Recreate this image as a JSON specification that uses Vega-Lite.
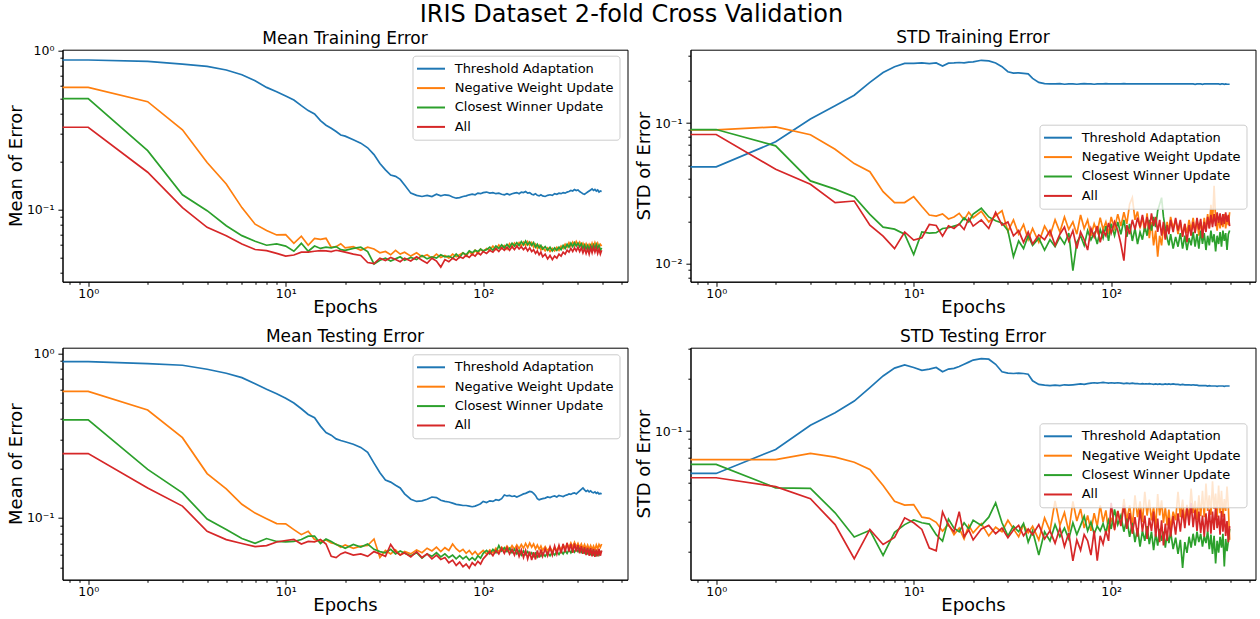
{
  "$schema": "https://vega.github.io/schema/vega-lite/v6.json",
  "background": "white",
  "padding": {"left": 6.5, "top": 2.7, "right": 4, "bottom": 4},
  "title": {"text": "IRIS Dataset 2-fold Cross Validation", "fontSize": 24, "anchor": "middle", "frame": "bounds", "baseline": "alphabetic", "offset": -16.8},
  "columns": 2,
  "spacing": {"row": 66, "column": 63},
  "bounds": "flush",
  "resolve": {"scale": {"color": "independent"}, "legend": {"color": "independent"}},
  "datasets": {
    "mtr": [
      {"e":0.5,"a":0.874,"b":0.588,"c":0.499,"d":0.33},
      {"e":1,"a":0.874,"b":0.588,"c":0.499,"d":0.33},
      {"e":2,"a":0.857,"b":0.478,"c":0.235,"d":0.172},
      {"e":3,"a":0.824,"b":0.318,"c":0.124,"d":0.103},
      {"e":4,"a":0.797,"b":0.198,"c":0.0985,"d":0.0774},
      {"e":5,"a":0.756,"b":0.145,"c":0.0792,"d":0.0686},
      {"e":6,"a":0.706,"b":0.103,"c":0.0686,"d":0.0608},
      {"e":7,"a":0.648,"b":0.081,"c":0.0632,"d":0.0561},
      {"e":8,"a":0.588,"b":0.0738,"c":0.0597,"d":0.0552},
      {"e":9,"a":0.552,"b":0.0693,"c":0.0608,"d":0.0531},
      {"e":10,"a":0.519,"b":0.0696,"c":0.059,"d":0.051},
      {"e":11,"a":0.49,"b":0.0614,"c":0.0547,"d":0.0518},
      {"e":12,"a":0.451,"b":0.068,"c":0.0614,"d":0.054},
      {"e":13,"a":0.42,"b":0.0597,"c":0.0547,"d":0.054},
      {"e":14,"a":0.4,"b":0.066,"c":0.059,"d":0.0547},
      {"e":15,"a":0.363,"b":0.065,"c":0.057,"d":0.0552},
      {"e":16,"a":0.34,"b":0.066,"c":0.058,"d":0.055},
      {"e":17,"a":0.325,"b":0.058,"c":0.0575,"d":0.0545},
      {"e":18,"a":0.31,"b":0.0585,"c":0.0585,"d":0.0555},
      {"e":19,"a":0.295,"b":0.061,"c":0.056,"d":0.0548},
      {"e":20,"a":0.29,"b":0.0575,"c":0.0555,"d":0.054},
      {"e":22,"a":0.275,"b":0.0585,"c":0.057,"d":0.0525},
      {"e":24,"a":0.262,"b":0.0555,"c":0.058,"d":0.0515},
      {"e":26,"a":0.245,"b":0.058,"c":0.0545,"d":0.0465},
      {"e":28,"a":0.222,"b":0.0565,"c":0.0455,"d":0.0458},
      {"e":30,"a":0.195,"b":0.0535,"c":0.048,"d":0.0495},
      {"e":32,"a":0.178,"b":0.0545,"c":0.0495,"d":0.0478},
      {"e":34,"a":0.165,"b":0.052,"c":0.0475,"d":0.05},
      {"e":36,"a":0.162,"b":0.0555,"c":0.049,"d":0.0485},
      {"e":38,"a":0.155,"b":0.0525,"c":0.0505,"d":0.047},
      {"e":40,"a":0.143,"b":0.054,"c":0.048,"d":0.0495},
      {"e":43,"a":0.127,"b":0.051,"c":0.05,"d":0.0475},
      {"e":46,"a":0.123,"b":0.0535,"c":0.0485,"d":0.0505},
      {"e":49,"a":0.121,"b":0.0505,"c":0.0515,"d":0.048},
      {"e":52,"a":0.123,"b":0.052,"c":0.049,"d":0.046},
      {"e":55,"a":0.121,"b":0.0495,"c":0.0505,"d":0.0495},
      {"e":58,"a":0.125,"b":0.0525,"c":0.0495,"d":0.0475},
      {"e":61,"a":0.122,"b":0.05,"c":0.052,"d":0.0435},
      {"e":64,"a":0.124,"b":0.0515,"c":0.0505,"d":0.0485},
      {"e":67,"a":0.123,"b":0.0495,"c":0.051,"d":0.047},
      {"e":70,"a":0.12,"b":0.0525,"c":0.0495,"d":0.0495},
      {"e":73,"a":0.118,"b":0.0505,"c":0.0525,"d":0.048},
      {"e":76,"a":0.119,"b":0.052,"c":0.05,"d":0.0505},
      {"e":79,"a":0.121,"b":0.0535,"c":0.0535,"d":0.0495},
      {"e":82,"a":0.122,"b":0.051,"c":0.052,"d":0.0515},
      {"e":85,"a":0.124,"b":0.0545,"c":0.055,"d":0.05},
      {"e":88,"a":0.125,"b":0.052,"c":0.0535,"d":0.0525},
      {"e":91,"a":0.124,"b":0.0555,"c":0.0555,"d":0.051},
      {"e":94,"a":0.127,"b":0.053,"c":0.0545,"d":0.0535},
      {"e":97,"a":0.126,"b":0.0565,"c":0.0565,"d":0.052},
      {"e":100,"a":0.128,"b":0.0545,"c":0.055,"d":0.0545},
      {"e":104,"a":0.129,"b":0.057,"c":0.056,"d":0.053},
      {"e":108,"a":0.127,"b":0.0555,"c":0.058,"d":0.0555},
      {"e":112,"a":0.128,"b":0.059,"c":0.0555,"d":0.054},
      {"e":116,"a":0.126,"b":0.056,"c":0.059,"d":0.057},
      {"e":120,"a":0.127,"b":0.06,"c":0.057,"d":0.0545},
      {"e":124,"a":0.125,"b":0.057,"c":0.06,"d":0.0575},
      {"e":128,"a":0.124,"b":0.0595,"c":0.0575,"d":0.0555},
      {"e":132,"a":0.126,"b":0.0565,"c":0.0605,"d":0.058},
      {"e":136,"a":0.124,"b":0.061,"c":0.058,"d":0.0555},
      {"e":140,"a":0.126,"b":0.058,"c":0.0615,"d":0.0585},
      {"e":144,"a":0.127,"b":0.0615,"c":0.059,"d":0.056},
      {"e":148,"a":0.128,"b":0.0585,"c":0.062,"d":0.059},
      {"e":152,"a":0.126,"b":0.062,"c":0.0595,"d":0.0565},
      {"e":156,"a":0.129,"b":0.059,"c":0.063,"d":0.0585},
      {"e":160,"a":0.128,"b":0.0625,"c":0.06,"d":0.056},
      {"e":164,"a":0.13,"b":0.0595,"c":0.0635,"d":0.058},
      {"e":168,"a":0.127,"b":0.063,"c":0.06,"d":0.055},
      {"e":172,"a":0.128,"b":0.0595,"c":0.0625,"d":0.0575},
      {"e":176,"a":0.125,"b":0.062,"c":0.0595,"d":0.0545},
      {"e":180,"a":0.124,"b":0.058,"c":0.062,"d":0.056},
      {"e":184,"a":0.126,"b":0.0605,"c":0.058,"d":0.053},
      {"e":188,"a":0.123,"b":0.057,"c":0.0605,"d":0.055},
      {"e":192,"a":0.122,"b":0.0595,"c":0.0575,"d":0.052},
      {"e":196,"a":0.124,"b":0.056,"c":0.0595,"d":0.054},
      {"e":200,"a":0.122,"b":0.058,"c":0.0565,"d":0.0505},
      {"e":206,"a":0.121,"b":0.055,"c":0.0585,"d":0.0525},
      {"e":212,"a":0.123,"b":0.0575,"c":0.0555,"d":0.049},
      {"e":218,"a":0.124,"b":0.0545,"c":0.058,"d":0.0515},
      {"e":224,"a":0.123,"b":0.057,"c":0.055,"d":0.0485},
      {"e":230,"a":0.126,"b":0.055,"c":0.0575,"d":0.051},
      {"e":236,"a":0.125,"b":0.058,"c":0.0555,"d":0.0495},
      {"e":242,"a":0.127,"b":0.0555,"c":0.058,"d":0.0525},
      {"e":248,"a":0.126,"b":0.059,"c":0.056,"d":0.051},
      {"e":254,"a":0.128,"b":0.057,"c":0.0595,"d":0.054},
      {"e":260,"a":0.127,"b":0.0605,"c":0.057,"d":0.0525},
      {"e":266,"a":0.129,"b":0.058,"c":0.0605,"d":0.0555},
      {"e":272,"a":0.13,"b":0.062,"c":0.058,"d":0.054},
      {"e":278,"a":0.132,"b":0.059,"c":0.0615,"d":0.057},
      {"e":284,"a":0.131,"b":0.0625,"c":0.0585,"d":0.0545},
      {"e":290,"a":0.134,"b":0.0595,"c":0.062,"d":0.0575},
      {"e":296,"a":0.132,"b":0.063,"c":0.059,"d":0.055},
      {"e":302,"a":0.133,"b":0.06,"c":0.0615,"d":0.058},
      {"e":308,"a":0.13,"b":0.0625,"c":0.0585,"d":0.0545},
      {"e":314,"a":0.128,"b":0.059,"c":0.061,"d":0.0575},
      {"e":320,"a":0.126,"b":0.0615,"c":0.057,"d":0.0535},
      {"e":326,"a":0.125,"b":0.058,"c":0.06,"d":0.057},
      {"e":332,"a":0.127,"b":0.061,"c":0.0565,"d":0.053},
      {"e":338,"a":0.129,"b":0.0575,"c":0.0595,"d":0.0565},
      {"e":344,"a":0.131,"b":0.0605,"c":0.056,"d":0.0525},
      {"e":350,"a":0.133,"b":0.0575,"c":0.0595,"d":0.0575},
      {"e":356,"a":0.135,"b":0.0615,"c":0.0565,"d":0.0535},
      {"e":362,"a":0.132,"b":0.058,"c":0.06,"d":0.058},
      {"e":368,"a":0.134,"b":0.062,"c":0.057,"d":0.054},
      {"e":374,"a":0.131,"b":0.0585,"c":0.0605,"d":0.0575},
      {"e":380,"a":0.133,"b":0.0615,"c":0.057,"d":0.053},
      {"e":386,"a":0.129,"b":0.058,"c":0.0595,"d":0.0565},
      {"e":392,"a":0.131,"b":0.0605,"c":0.0555,"d":0.0525},
      {"e":398,"a":0.13,"b":0.059,"c":0.0575,"d":0.0555}
    ],
    "str": [
      {"e":0.5,"a":0.0488,"b":0.0896,"c":0.09,"d":0.083},
      {"e":1,"a":0.0488,"b":0.0896,"c":0.09,"d":0.083},
      {"e":2,"a":0.0736,"b":0.094,"c":0.0689,"d":0.047},
      {"e":3,"a":0.107,"b":0.0826,"c":0.0388,"d":0.0367},
      {"e":4,"a":0.133,"b":0.0652,"c":0.0339,"d":0.0272},
      {"e":5,"a":0.158,"b":0.0515,"c":0.0299,"d":0.0279},
      {"e":6,"a":0.195,"b":0.0451,"c":0.0224,"d":0.0188},
      {"e":7,"a":0.229,"b":0.0325,"c":0.0182,"d":0.0157},
      {"e":8,"a":0.252,"b":0.0272,"c":0.0176,"d":0.0128},
      {"e":9,"a":0.266,"b":0.0272,"c":0.0162,"d":0.0168},
      {"e":10,"a":0.266,"b":0.03,"c":0.0116,"d":0.0147},
      {"e":11,"a":0.268,"b":0.0255,"c":0.0168,"d":0.0153},
      {"e":12,"a":0.265,"b":0.0222,"c":0.0165,"d":0.019},
      {"e":13,"a":0.268,"b":0.0218,"c":0.0166,"d":0.0187},
      {"e":14,"a":0.255,"b":0.0226,"c":0.0178,"d":0.0157},
      {"e":15,"a":0.267,"b":0.0208,"c":0.018,"d":0.0186},
      {"e":16,"a":0.268,"b":0.0215,"c":0.0185,"d":0.0178},
      {"e":17,"a":0.27,"b":0.0228,"c":0.019,"d":0.0192},
      {"e":18,"a":0.268,"b":0.0205,"c":0.0212,"d":0.0175},
      {"e":19,"a":0.272,"b":0.0232,"c":0.0198,"d":0.021},
      {"e":20,"a":0.273,"b":0.0212,"c":0.0225,"d":0.0185},
      {"e":22,"a":0.28,"b":0.0236,"c":0.0248,"d":0.0205},
      {"e":24,"a":0.277,"b":0.0198,"c":0.0215,"d":0.0178},
      {"e":26,"a":0.268,"b":0.022,"c":0.0202,"d":0.0232},
      {"e":28,"a":0.252,"b":0.0238,"c":0.0195,"d":0.0188},
      {"e":30,"a":0.232,"b":0.017,"c":0.0172,"d":0.0198},
      {"e":32,"a":0.227,"b":0.0205,"c":0.0112,"d":0.0158},
      {"e":34,"a":0.228,"b":0.0162,"c":0.0145,"d":0.0172},
      {"e":36,"a":0.226,"b":0.019,"c":0.0128,"d":0.0142},
      {"e":38,"a":0.224,"b":0.0148,"c":0.0158,"d":0.0168},
      {"e":40,"a":0.208,"b":0.0178,"c":0.0135,"d":0.0138},
      {"e":43,"a":0.195,"b":0.0142,"c":0.0152,"d":0.016},
      {"e":46,"a":0.191,"b":0.0185,"c":0.0125,"d":0.0148},
      {"e":49,"a":0.19,"b":0.0158,"c":0.0148,"d":0.0172},
      {"e":52,"a":0.19,"b":0.0205,"c":0.0132,"d":0.0135},
      {"e":55,"a":0.191,"b":0.0168,"c":0.0155,"d":0.0162},
      {"e":58,"a":0.189,"b":0.0215,"c":0.0138,"d":0.0182},
      {"e":61,"a":0.19,"b":0.0175,"c":0.0165,"d":0.0145},
      {"e":64,"a":0.19,"b":0.0198,"c":0.0089,"d":0.0172},
      {"e":67,"a":0.189,"b":0.0162,"c":0.0142,"d":0.0128},
      {"e":70,"a":0.19,"b":0.0222,"c":0.0158,"d":0.0168},
      {"e":73,"a":0.191,"b":0.0178,"c":0.0135,"d":0.0148},
      {"e":76,"a":0.19,"b":0.0205,"c":0.0172,"d":0.0125},
      {"e":79,"a":0.19,"b":0.0158,"c":0.0148,"d":0.0178},
      {"e":82,"a":0.189,"b":0.0192,"c":0.0165,"d":0.0155},
      {"e":85,"a":0.19,"b":0.0168,"c":0.0138,"d":0.0185},
      {"e":88,"a":0.19,"b":0.0212,"c":0.0175,"d":0.0142},
      {"e":91,"a":0.19,"b":0.0175,"c":0.0152,"d":0.0172},
      {"e":94,"a":0.191,"b":0.0198,"c":0.0185,"d":0.0158},
      {"e":97,"a":0.19,"b":0.0162,"c":0.0145,"d":0.0195},
      {"e":100,"a":0.19,"b":0.0215,"c":0.0192,"d":0.0165},
      {"e":104,"a":0.19,"b":0.0178,"c":0.0158,"d":0.0198},
      {"e":108,"a":0.19,"b":0.0225,"c":0.0198,"d":0.0172},
      {"e":112,"a":0.19,"b":0.0185,"c":0.0162,"d":0.0138},
      {"e":116,"a":0.191,"b":0.0232,"c":0.0205,"d":0.0105},
      {"e":120,"a":0.19,"b":0.0192,"c":0.0155,"d":0.0188},
      {"e":124,"a":0.19,"b":0.0265,"c":0.0192,"d":0.0162},
      {"e":128,"a":0.19,"b":0.0295,"c":0.0145,"d":0.0205},
      {"e":132,"a":0.19,"b":0.0205,"c":0.0178,"d":0.0175},
      {"e":136,"a":0.19,"b":0.0235,"c":0.0138,"d":0.0212},
      {"e":140,"a":0.19,"b":0.0178,"c":0.0168,"d":0.0182},
      {"e":144,"a":0.19,"b":0.0215,"c":0.0148,"d":0.0222},
      {"e":148,"a":0.19,"b":0.0168,"c":0.0185,"d":0.0178},
      {"e":152,"a":0.19,"b":0.0228,"c":0.0158,"d":0.0215},
      {"e":156,"a":0.19,"b":0.0152,"c":0.0205,"d":0.0175},
      {"e":160,"a":0.19,"b":0.0198,"c":0.0172,"d":0.0228},
      {"e":164,"a":0.19,"b":0.0135,"c":0.0215,"d":0.0185},
      {"e":168,"a":0.19,"b":0.0172,"c":0.0182,"d":0.0215},
      {"e":172,"a":0.19,"b":0.0112,"c":0.0238,"d":0.0168},
      {"e":176,"a":0.19,"b":0.0158,"c":0.0265,"d":0.0205},
      {"e":180,"a":0.19,"b":0.0135,"c":0.0295,"d":0.0158},
      {"e":184,"a":0.19,"b":0.0185,"c":0.0215,"d":0.0198},
      {"e":188,"a":0.19,"b":0.0152,"c":0.0178,"d":0.0148},
      {"e":192,"a":0.19,"b":0.0198,"c":0.0152,"d":0.0188},
      {"e":196,"a":0.19,"b":0.0168,"c":0.0135,"d":0.0162},
      {"e":200,"a":0.19,"b":0.0215,"c":0.0162,"d":0.0205},
      {"e":206,"a":0.19,"b":0.0178,"c":0.0128,"d":0.0168},
      {"e":212,"a":0.19,"b":0.0205,"c":0.0155,"d":0.0212},
      {"e":218,"a":0.19,"b":0.0162,"c":0.0132,"d":0.0172},
      {"e":224,"a":0.19,"b":0.0198,"c":0.0165,"d":0.0205},
      {"e":230,"a":0.19,"b":0.0158,"c":0.0128,"d":0.0155},
      {"e":236,"a":0.19,"b":0.0192,"c":0.0158,"d":0.0192},
      {"e":242,"a":0.19,"b":0.0165,"c":0.0125,"d":0.0142},
      {"e":248,"a":0.19,"b":0.0205,"c":0.0152,"d":0.0188},
      {"e":254,"a":0.19,"b":0.0172,"c":0.0135,"d":0.0158},
      {"e":260,"a":0.19,"b":0.0212,"c":0.0168,"d":0.0198},
      {"e":266,"a":0.189,"b":0.0168,"c":0.0132,"d":0.0165},
      {"e":272,"a":0.19,"b":0.0205,"c":0.0162,"d":0.0212},
      {"e":278,"a":0.19,"b":0.0158,"c":0.0128,"d":0.0175},
      {"e":284,"a":0.19,"b":0.0198,"c":0.0172,"d":0.0208},
      {"e":290,"a":0.189,"b":0.0165,"c":0.0138,"d":0.0152},
      {"e":296,"a":0.19,"b":0.0212,"c":0.0165,"d":0.0198},
      {"e":302,"a":0.19,"b":0.0172,"c":0.0125,"d":0.0168},
      {"e":308,"a":0.19,"b":0.0225,"c":0.0158,"d":0.0215},
      {"e":314,"a":0.19,"b":0.0178,"c":0.0135,"d":0.0178},
      {"e":320,"a":0.19,"b":0.0262,"c":0.0172,"d":0.0222},
      {"e":326,"a":0.19,"b":0.0192,"c":0.0142,"d":0.0182},
      {"e":332,"a":0.19,"b":0.0358,"c":0.0162,"d":0.0225},
      {"e":338,"a":0.19,"b":0.0205,"c":0.0122,"d":0.0185},
      {"e":344,"a":0.19,"b":0.0172,"c":0.0158,"d":0.0232},
      {"e":350,"a":0.19,"b":0.0215,"c":0.0138,"d":0.0195},
      {"e":356,"a":0.189,"b":0.0178,"c":0.0168,"d":0.0228},
      {"e":362,"a":0.19,"b":0.0212,"c":0.0132,"d":0.0188},
      {"e":368,"a":0.19,"b":0.0182,"c":0.0172,"d":0.0225},
      {"e":374,"a":0.189,"b":0.0225,"c":0.0145,"d":0.0192},
      {"e":380,"a":0.19,"b":0.0178,"c":0.0165,"d":0.0232},
      {"e":386,"a":0.189,"b":0.0215,"c":0.0125,"d":0.0198},
      {"e":392,"a":0.189,"b":0.0188,"c":0.0162,"d":0.0222},
      {"e":398,"a":0.189,"b":0.0232,"c":0.0172,"d":0.0185}
    ],
    "mte": [
      {"e":0.5,"a":0.889,"b":0.587,"c":0.394,"d":0.246},
      {"e":1,"a":0.889,"b":0.587,"c":0.394,"d":0.246},
      {"e":2,"a":0.864,"b":0.452,"c":0.197,"d":0.152},
      {"e":3,"a":0.845,"b":0.307,"c":0.142,"d":0.118},
      {"e":4,"a":0.799,"b":0.186,"c":0.0986,"d":0.083},
      {"e":5,"a":0.756,"b":0.15,"c":0.085,"d":0.0739},
      {"e":6,"a":0.711,"b":0.121,"c":0.075,"d":0.07},
      {"e":7,"a":0.653,"b":0.107,"c":0.0702,"d":0.067},
      {"e":8,"a":0.604,"b":0.099,"c":0.075,"d":0.068},
      {"e":9,"a":0.568,"b":0.0924,"c":0.072,"d":0.0715},
      {"e":10,"a":0.532,"b":0.092,"c":0.0715,"d":0.073},
      {"e":11,"a":0.498,"b":0.085,"c":0.072,"d":0.074},
      {"e":12,"a":0.46,"b":0.0792,"c":0.074,"d":0.0695},
      {"e":13,"a":0.425,"b":0.083,"c":0.0775,"d":0.072},
      {"e":14,"a":0.406,"b":0.0739,"c":0.0775,"d":0.0715},
      {"e":15,"a":0.361,"b":0.072,"c":0.07,"d":0.074},
      {"e":16,"a":0.33,"b":0.0735,"c":0.0745,"d":0.0695},
      {"e":17,"a":0.318,"b":0.0705,"c":0.072,"d":0.0585},
      {"e":18,"a":0.302,"b":0.0695,"c":0.069,"d":0.0575},
      {"e":19,"a":0.295,"b":0.0665,"c":0.0675,"d":0.0605},
      {"e":20,"a":0.29,"b":0.0685,"c":0.0655,"d":0.062},
      {"e":22,"a":0.28,"b":0.0655,"c":0.069,"d":0.0595},
      {"e":24,"a":0.268,"b":0.0675,"c":0.0665,"d":0.0605},
      {"e":26,"a":0.25,"b":0.068,"c":0.0695,"d":0.0585},
      {"e":28,"a":0.215,"b":0.0745,"c":0.0645,"d":0.0625},
      {"e":30,"a":0.188,"b":0.0575,"c":0.0625,"d":0.0605},
      {"e":32,"a":0.17,"b":0.0635,"c":0.0615,"d":0.0585},
      {"e":34,"a":0.165,"b":0.0605,"c":0.0645,"d":0.069},
      {"e":36,"a":0.158,"b":0.064,"c":0.0605,"d":0.0625},
      {"e":38,"a":0.152,"b":0.0595,"c":0.063,"d":0.0595},
      {"e":40,"a":0.14,"b":0.0625,"c":0.061,"d":0.0615},
      {"e":43,"a":0.13,"b":0.0605,"c":0.059,"d":0.058},
      {"e":46,"a":0.126,"b":0.064,"c":0.0615,"d":0.0625},
      {"e":49,"a":0.127,"b":0.0615,"c":0.057,"d":0.0575},
      {"e":52,"a":0.13,"b":0.0655,"c":0.0605,"d":0.0605},
      {"e":55,"a":0.134,"b":0.063,"c":0.0585,"d":0.0565},
      {"e":58,"a":0.133,"b":0.0665,"c":0.0615,"d":0.0595},
      {"e":61,"a":0.128,"b":0.0625,"c":0.058,"d":0.056},
      {"e":64,"a":0.126,"b":0.066,"c":0.0605,"d":0.0575},
      {"e":67,"a":0.125,"b":0.0635,"c":0.0575,"d":0.0535},
      {"e":70,"a":0.123,"b":0.0695,"c":0.0595,"d":0.0555},
      {"e":73,"a":0.121,"b":0.065,"c":0.0565,"d":0.0515},
      {"e":76,"a":0.12,"b":0.0625,"c":0.059,"d":0.054},
      {"e":79,"a":0.119,"b":0.0645,"c":0.0565,"d":0.0505},
      {"e":82,"a":0.119,"b":0.061,"c":0.0585,"d":0.0525},
      {"e":85,"a":0.118,"b":0.0635,"c":0.0555,"d":0.0495},
      {"e":88,"a":0.117,"b":0.06,"c":0.0575,"d":0.0535},
      {"e":91,"a":0.118,"b":0.0625,"c":0.0555,"d":0.0515},
      {"e":94,"a":0.12,"b":0.0595,"c":0.059,"d":0.0545},
      {"e":97,"a":0.122,"b":0.0615,"c":0.057,"d":0.0525},
      {"e":100,"a":0.126,"b":0.0635,"c":0.061,"d":0.0565},
      {"e":104,"a":0.124,"b":0.0605,"c":0.0635,"d":0.0595},
      {"e":108,"a":0.127,"b":0.064,"c":0.0605,"d":0.0625},
      {"e":112,"a":0.126,"b":0.0615,"c":0.0645,"d":0.059},
      {"e":116,"a":0.129,"b":0.0655,"c":0.0615,"d":0.0635},
      {"e":120,"a":0.128,"b":0.0625,"c":0.068,"d":0.0605},
      {"e":124,"a":0.131,"b":0.0665,"c":0.063,"d":0.0655},
      {"e":128,"a":0.138,"b":0.0635,"c":0.066,"d":0.061},
      {"e":132,"a":0.136,"b":0.0675,"c":0.0625,"d":0.066},
      {"e":136,"a":0.137,"b":0.064,"c":0.0655,"d":0.0605},
      {"e":140,"a":0.135,"b":0.068,"c":0.0615,"d":0.0645},
      {"e":144,"a":0.136,"b":0.0645,"c":0.0645,"d":0.0595},
      {"e":148,"a":0.134,"b":0.0685,"c":0.0605,"d":0.0655},
      {"e":152,"a":0.136,"b":0.065,"c":0.0635,"d":0.0585},
      {"e":156,"a":0.138,"b":0.069,"c":0.0595,"d":0.064},
      {"e":160,"a":0.14,"b":0.0655,"c":0.063,"d":0.0575},
      {"e":164,"a":0.141,"b":0.07,"c":0.06,"d":0.0635},
      {"e":168,"a":0.143,"b":0.066,"c":0.0625,"d":0.0565},
      {"e":172,"a":0.145,"b":0.0705,"c":0.0595,"d":0.0625},
      {"e":176,"a":0.144,"b":0.0665,"c":0.0615,"d":0.0555},
      {"e":180,"a":0.141,"b":0.0695,"c":0.0585,"d":0.062},
      {"e":184,"a":0.137,"b":0.065,"c":0.061,"d":0.056},
      {"e":188,"a":0.131,"b":0.0685,"c":0.058,"d":0.0635},
      {"e":192,"a":0.129,"b":0.0645,"c":0.0605,"d":0.0575},
      {"e":196,"a":0.13,"b":0.0675,"c":0.0585,"d":0.0645},
      {"e":200,"a":0.131,"b":0.0635,"c":0.061,"d":0.0585},
      {"e":206,"a":0.132,"b":0.067,"c":0.0585,"d":0.065},
      {"e":212,"a":0.134,"b":0.063,"c":0.0615,"d":0.059},
      {"e":218,"a":0.133,"b":0.0665,"c":0.059,"d":0.0665},
      {"e":224,"a":0.135,"b":0.0625,"c":0.062,"d":0.0595},
      {"e":230,"a":0.136,"b":0.066,"c":0.0595,"d":0.0675},
      {"e":236,"a":0.134,"b":0.0635,"c":0.0625,"d":0.0605},
      {"e":242,"a":0.137,"b":0.0675,"c":0.06,"d":0.068},
      {"e":248,"a":0.136,"b":0.064,"c":0.063,"d":0.061},
      {"e":254,"a":0.135,"b":0.0685,"c":0.0605,"d":0.0695},
      {"e":260,"a":0.137,"b":0.0655,"c":0.0635,"d":0.062},
      {"e":266,"a":0.138,"b":0.0695,"c":0.061,"d":0.0705},
      {"e":272,"a":0.14,"b":0.066,"c":0.064,"d":0.0625},
      {"e":278,"a":0.139,"b":0.0705,"c":0.0615,"d":0.0695},
      {"e":284,"a":0.141,"b":0.0665,"c":0.0645,"d":0.0615},
      {"e":290,"a":0.142,"b":0.071,"c":0.062,"d":0.07},
      {"e":296,"a":0.14,"b":0.0665,"c":0.065,"d":0.0625},
      {"e":302,"a":0.143,"b":0.07,"c":0.0625,"d":0.0685},
      {"e":308,"a":0.146,"b":0.066,"c":0.065,"d":0.061},
      {"e":314,"a":0.149,"b":0.0695,"c":0.062,"d":0.0675},
      {"e":320,"a":0.152,"b":0.0655,"c":0.0645,"d":0.0605},
      {"e":326,"a":0.148,"b":0.069,"c":0.0615,"d":0.0665},
      {"e":332,"a":0.145,"b":0.065,"c":0.064,"d":0.0595},
      {"e":338,"a":0.147,"b":0.0685,"c":0.061,"d":0.066},
      {"e":344,"a":0.144,"b":0.0645,"c":0.0635,"d":0.059},
      {"e":350,"a":0.146,"b":0.068,"c":0.0605,"d":0.0655},
      {"e":356,"a":0.143,"b":0.0645,"c":0.063,"d":0.0585},
      {"e":362,"a":0.142,"b":0.0675,"c":0.06,"d":0.065},
      {"e":368,"a":0.144,"b":0.064,"c":0.0625,"d":0.058},
      {"e":374,"a":0.141,"b":0.0685,"c":0.0595,"d":0.0645},
      {"e":380,"a":0.143,"b":0.065,"c":0.062,"d":0.0585},
      {"e":386,"a":0.14,"b":0.069,"c":0.0595,"d":0.065},
      {"e":392,"a":0.141,"b":0.0665,"c":0.0615,"d":0.059},
      {"e":398,"a":0.14,"b":0.0695,"c":0.063,"d":0.0635}
    ],
    "ste": [
      {"e":0.5,"a":0.0569,"b":0.0683,"c":0.0641,"d":0.0537},
      {"e":1,"a":0.0569,"b":0.0683,"c":0.0641,"d":0.0537},
      {"e":2,"a":0.0783,"b":0.0683,"c":0.047,"d":0.0477},
      {"e":3,"a":0.108,"b":0.0743,"c":0.0466,"d":0.0406},
      {"e":4,"a":0.1277,"b":0.0707,"c":0.0337,"d":0.0288},
      {"e":5,"a":0.149,"b":0.066,"c":0.0244,"d":0.0183},
      {"e":6,"a":0.178,"b":0.06,"c":0.0267,"d":0.027},
      {"e":7,"a":0.208,"b":0.0484,"c":0.0191,"d":0.0221},
      {"e":8,"a":0.231,"b":0.0393,"c":0.026,"d":0.0243},
      {"e":9,"a":0.241,"b":0.0373,"c":0.0288,"d":0.0315},
      {"e":10,"a":0.233,"b":0.0376,"c":0.0306,"d":0.0295},
      {"e":11,"a":0.224,"b":0.0318,"c":0.0295,"d":0.027},
      {"e":12,"a":0.228,"b":0.0313,"c":0.029,"d":0.0211},
      {"e":13,"a":0.233,"b":0.0297,"c":0.0252,"d":0.0203},
      {"e":14,"a":0.22,"b":0.0264,"c":0.0231,"d":0.0341},
      {"e":15,"a":0.228,"b":0.029,"c":0.031,"d":0.0285},
      {"e":16,"a":0.23,"b":0.0252,"c":0.0275,"d":0.0262},
      {"e":17,"a":0.236,"b":0.0275,"c":0.0262,"d":0.0342},
      {"e":18,"a":0.243,"b":0.0238,"c":0.0295,"d":0.0245},
      {"e":19,"a":0.25,"b":0.0285,"c":0.0272,"d":0.0268},
      {"e":20,"a":0.257,"b":0.0258,"c":0.0305,"d":0.0235},
      {"e":22,"a":0.262,"b":0.0292,"c":0.0285,"d":0.0272},
      {"e":24,"a":0.26,"b":0.0248,"c":0.0318,"d":0.0285},
      {"e":26,"a":0.243,"b":0.0278,"c":0.0385,"d":0.0255},
      {"e":28,"a":0.22,"b":0.0262,"c":0.0295,"d":0.0275},
      {"e":30,"a":0.216,"b":0.0305,"c":0.0248,"d":0.0242},
      {"e":32,"a":0.215,"b":0.0272,"c":0.0282,"d":0.0268},
      {"e":34,"a":0.216,"b":0.0245,"c":0.0262,"d":0.0285},
      {"e":36,"a":0.215,"b":0.0288,"c":0.0292,"d":0.0248},
      {"e":38,"a":0.213,"b":0.0258,"c":0.0228,"d":0.0272},
      {"e":40,"a":0.195,"b":0.0282,"c":0.0265,"d":0.0252},
      {"e":43,"a":0.186,"b":0.0235,"c":0.0192,"d":0.0288},
      {"e":46,"a":0.184,"b":0.0315,"c":0.0262,"d":0.0238},
      {"e":49,"a":0.183,"b":0.0265,"c":0.0232,"d":0.0265},
      {"e":52,"a":0.184,"b":0.0395,"c":0.0288,"d":0.0225},
      {"e":55,"a":0.183,"b":0.0285,"c":0.0245,"d":0.0275},
      {"e":58,"a":0.185,"b":0.0338,"c":0.0275,"d":0.0215},
      {"e":61,"a":0.184,"b":0.0262,"c":0.0238,"d":0.0258},
      {"e":64,"a":0.185,"b":0.0392,"c":0.0295,"d":0.0178},
      {"e":67,"a":0.186,"b":0.0302,"c":0.0252,"d":0.0235},
      {"e":70,"a":0.187,"b":0.0355,"c":0.0285,"d":0.0205},
      {"e":73,"a":0.186,"b":0.0275,"c":0.0322,"d":0.0252},
      {"e":76,"a":0.188,"b":0.0325,"c":0.0265,"d":0.0232},
      {"e":79,"a":0.189,"b":0.0265,"c":0.0298,"d":0.0192},
      {"e":82,"a":0.19,"b":0.0335,"c":0.0255,"d":0.0265},
      {"e":85,"a":0.189,"b":0.0282,"c":0.0282,"d":0.0178},
      {"e":88,"a":0.19,"b":0.0372,"c":0.0265,"d":0.0248},
      {"e":91,"a":0.191,"b":0.0298,"c":0.0292,"d":0.0222},
      {"e":94,"a":0.19,"b":0.0348,"c":0.0258,"d":0.0265},
      {"e":97,"a":0.189,"b":0.0262,"c":0.0305,"d":0.0232},
      {"e":100,"a":0.19,"b":0.0315,"c":0.0272,"d":0.0385},
      {"e":104,"a":0.189,"b":0.0275,"c":0.0352,"d":0.0268},
      {"e":108,"a":0.19,"b":0.0345,"c":0.0288,"d":0.0345},
      {"e":112,"a":0.189,"b":0.0285,"c":0.0325,"d":0.0282},
      {"e":116,"a":0.188,"b":0.0405,"c":0.0262,"d":0.0372},
      {"e":120,"a":0.189,"b":0.0305,"c":0.0312,"d":0.0272},
      {"e":124,"a":0.188,"b":0.0372,"c":0.0245,"d":0.0335},
      {"e":128,"a":0.189,"b":0.0282,"c":0.0295,"d":0.0255},
      {"e":132,"a":0.188,"b":0.0425,"c":0.0228,"d":0.0318},
      {"e":136,"a":0.188,"b":0.0318,"c":0.0275,"d":0.0245},
      {"e":140,"a":0.187,"b":0.0392,"c":0.0215,"d":0.0352},
      {"e":144,"a":0.188,"b":0.0298,"c":0.0265,"d":0.0262},
      {"e":148,"a":0.187,"b":0.0445,"c":0.0232,"d":0.0325},
      {"e":152,"a":0.187,"b":0.0325,"c":0.0282,"d":0.0238},
      {"e":156,"a":0.188,"b":0.0402,"c":0.0222,"d":0.0315},
      {"e":160,"a":0.187,"b":0.0305,"c":0.0262,"d":0.0265},
      {"e":164,"a":0.186,"b":0.0365,"c":0.0205,"d":0.0342},
      {"e":168,"a":0.187,"b":0.0278,"c":0.0255,"d":0.0245},
      {"e":172,"a":0.186,"b":0.0432,"c":0.0218,"d":0.0312},
      {"e":176,"a":0.187,"b":0.0325,"c":0.0272,"d":0.0228},
      {"e":180,"a":0.186,"b":0.0398,"c":0.0232,"d":0.0305},
      {"e":184,"a":0.186,"b":0.0295,"c":0.0262,"d":0.0218},
      {"e":188,"a":0.187,"b":0.0362,"c":0.0212,"d":0.0292},
      {"e":192,"a":0.186,"b":0.0285,"c":0.0255,"d":0.0232},
      {"e":196,"a":0.187,"b":0.0352,"c":0.0225,"d":0.0315},
      {"e":200,"a":0.186,"b":0.0272,"c":0.0262,"d":0.0245},
      {"e":206,"a":0.187,"b":0.0342,"c":0.0208,"d":0.0322},
      {"e":212,"a":0.186,"b":0.0305,"c":0.0242,"d":0.0252},
      {"e":218,"a":0.186,"b":0.0445,"c":0.0195,"d":0.0335},
      {"e":224,"a":0.185,"b":0.0318,"c":0.0235,"d":0.0262},
      {"e":230,"a":0.186,"b":0.0402,"c":0.0162,"d":0.0352},
      {"e":236,"a":0.185,"b":0.0295,"c":0.0228,"d":0.0275},
      {"e":242,"a":0.185,"b":0.0375,"c":0.0198,"d":0.0365},
      {"e":248,"a":0.185,"b":0.0312,"c":0.0245,"d":0.0285},
      {"e":254,"a":0.184,"b":0.0465,"c":0.0212,"d":0.0385},
      {"e":260,"a":0.185,"b":0.0335,"c":0.0255,"d":0.0278},
      {"e":266,"a":0.184,"b":0.0395,"c":0.0218,"d":0.0352},
      {"e":272,"a":0.184,"b":0.0305,"c":0.0262,"d":0.0265},
      {"e":278,"a":0.183,"b":0.0425,"c":0.0228,"d":0.0342},
      {"e":284,"a":0.183,"b":0.0322,"c":0.0255,"d":0.0258},
      {"e":290,"a":0.183,"b":0.0452,"c":0.0215,"d":0.0325},
      {"e":296,"a":0.183,"b":0.0318,"c":0.0248,"d":0.0245},
      {"e":302,"a":0.183,"b":0.0498,"c":0.0225,"d":0.0335},
      {"e":308,"a":0.182,"b":0.0345,"c":0.0265,"d":0.0262},
      {"e":314,"a":0.183,"b":0.0425,"c":0.0208,"d":0.0352},
      {"e":320,"a":0.182,"b":0.0328,"c":0.0252,"d":0.0255},
      {"e":326,"a":0.182,"b":0.0512,"c":0.0195,"d":0.0342},
      {"e":332,"a":0.182,"b":0.0355,"c":0.0248,"d":0.0268},
      {"e":338,"a":0.182,"b":0.0435,"c":0.0172,"d":0.0365},
      {"e":344,"a":0.181,"b":0.0318,"c":0.0232,"d":0.0275},
      {"e":350,"a":0.182,"b":0.0485,"c":0.0198,"d":0.0325},
      {"e":356,"a":0.182,"b":0.0335,"c":0.0245,"d":0.0252},
      {"e":362,"a":0.182,"b":0.0452,"c":0.0212,"d":0.0345},
      {"e":368,"a":0.182,"b":0.0318,"c":0.0255,"d":0.0262},
      {"e":374,"a":0.181,"b":0.0405,"c":0.0165,"d":0.0332},
      {"e":380,"a":0.182,"b":0.0345,"c":0.0238,"d":0.0248},
      {"e":386,"a":0.182,"b":0.0478,"c":0.0202,"d":0.0302},
      {"e":392,"a":0.182,"b":0.0365,"c":0.0232,"d":0.0228},
      {"e":398,"a":0.182,"b":0.0235,"c":0.0272,"d":0.0282}
    ]
  },
  "concat": [
    {
      "width": 565, "height": 232,
      "title": {"text": "Mean Training Error", "offset": -2.9},
      "data": {"name": "mtr"},
      "transform": [{"fold": ["a","b","c","d"], "as": ["s","v"]}],
      "mark": {"type": "line", "clip": true, "strokeWidth": 1.7},
      "encoding": {
        "x": {"field": "e", "type": "quantitative", "scale": {"type": "log", "domain": [0.741, 538], "nice": false},
          "axis": {"title": "Epochs", "values": [0.8,0.9,1,2,3,4,5,6,7,8,9,10,20,30,40,50,60,70,80,90,100,200,300,400,500],
            "labelExpr": "datum.value == 1 ? '10⁰' : datum.value == 10 ? '10¹' : datum.value == 100 ? '10²' : ''",
            "tickSize": {"condition": {"test": "datum.value == 1 || datum.value == 10 || datum.value == 100", "value": 4.6}, "value": 2.6}}},
        "y": {"field": "v", "type": "quantitative", "scale": {"type": "log", "domain": [0.0352, 1.015], "nice": false},
          "axis": {"title": "Mean of Error", "values": [0.04,0.05,0.06,0.07,0.08,0.09,0.1,0.2,0.3,0.4,0.5,0.6,0.7,0.8,0.9,1],
            "labelExpr": "datum.value == 1 ? '10⁰' : datum.value == 0.1 ? '10⁻¹' : ''",
            "tickSize": {"condition": {"test": "datum.value == 1 || datum.value == 0.1", "value": 4.6}, "value": 2.6}}},
        "color": {"field": "s", "type": "nominal", "scale": {"domain": ["a","b","c","d"], "range": ["#1f77b4","#ff7f0e","#2ca02c","#d62728"]},
          "legend": {"title": null, "orient": "none", "legendX": 350, "legendY": 6,
            "labelExpr": "datum.label == 'a' ? 'Threshold Adaptation' : datum.label == 'b' ? 'Negative Weight Update' : datum.label == 'c' ? 'Closest Winner Update' : 'All'"}}
      }
    },
    {
      "width": 565, "height": 232,
      "title": {"text": "STD Training Error", "offset": 2.3},
      "data": {"name": "str"},
      "transform": [{"fold": ["a","b","c","d"], "as": ["s","v"]}],
      "mark": {"type": "line", "clip": true, "strokeWidth": 1.7},
      "encoding": {
        "x": {"field": "e", "type": "quantitative", "scale": {"type": "log", "domain": [0.741, 538], "nice": false},
          "axis": {"title": "Epochs", "values": [0.8,0.9,1,2,3,4,5,6,7,8,9,10,20,30,40,50,60,70,80,90,100,200,300,400,500],
            "labelExpr": "datum.value == 1 ? '10⁰' : datum.value == 10 ? '10¹' : datum.value == 100 ? '10²' : ''",
            "tickSize": {"condition": {"test": "datum.value == 1 || datum.value == 10 || datum.value == 100", "value": 4.6}, "value": 2.6}}},
        "y": {"field": "v", "type": "quantitative", "scale": {"type": "log", "domain": [0.00744, 0.333], "nice": false},
          "axis": {"title": "STD of Error", "values": [0.008,0.009,0.01,0.02,0.03,0.04,0.05,0.06,0.07,0.08,0.09,0.1,0.2,0.3],
            "labelExpr": "datum.value == 0.01 ? '10⁻²' : datum.value == 0.1 ? '10⁻¹' : ''",
            "tickSize": {"condition": {"test": "datum.value == 0.01 || datum.value == 0.1", "value": 4.6}, "value": 2.6}}},
        "color": {"field": "s", "type": "nominal", "scale": {"domain": ["a","b","c","d"], "range": ["#1f77b4","#ff7f0e","#2ca02c","#d62728"]},
          "legend": {"title": null, "orient": "none", "legendX": 349, "legendY": 75,
            "labelExpr": "datum.label == 'a' ? 'Threshold Adaptation' : datum.label == 'b' ? 'Negative Weight Update' : datum.label == 'c' ? 'Closest Winner Update' : 'All'"}}
      }
    },
    {
      "width": 565, "height": 232,
      "title": {"text": "Mean Testing Error", "offset": 1.55},
      "data": {"name": "mte"},
      "transform": [{"fold": ["a","b","c","d"], "as": ["s","v"]}],
      "mark": {"type": "line", "clip": true, "strokeWidth": 1.7},
      "encoding": {
        "x": {"field": "e", "type": "quantitative", "scale": {"type": "log", "domain": [0.741, 538], "nice": false},
          "axis": {"title": "Epochs", "values": [0.8,0.9,1,2,3,4,5,6,7,8,9,10,20,30,40,50,60,70,80,90,100,200,300,400,500],
            "labelExpr": "datum.value == 1 ? '10⁰' : datum.value == 10 ? '10¹' : datum.value == 100 ? '10²' : ''",
            "tickSize": {"condition": {"test": "datum.value == 1 || datum.value == 10 || datum.value == 100", "value": 4.6}, "value": 2.6}}},
        "y": {"field": "v", "type": "quantitative", "scale": {"type": "log", "domain": [0.0422, 1.08], "nice": false},
          "axis": {"title": "Mean of Error", "values": [0.05,0.06,0.07,0.08,0.09,0.1,0.2,0.3,0.4,0.5,0.6,0.7,0.8,0.9,1],
            "labelExpr": "datum.value == 1 ? '10⁰' : datum.value == 0.1 ? '10⁻¹' : ''",
            "tickSize": {"condition": {"test": "datum.value == 1 || datum.value == 0.1", "value": 4.6}, "value": 2.6}}},
        "color": {"field": "s", "type": "nominal", "scale": {"domain": ["a","b","c","d"], "range": ["#1f77b4","#ff7f0e","#2ca02c","#d62728"]},
          "legend": {"title": null, "orient": "none", "legendX": 350, "legendY": 6.6,
            "labelExpr": "datum.label == 'a' ? 'Threshold Adaptation' : datum.label == 'b' ? 'Negative Weight Update' : datum.label == 'c' ? 'Closest Winner Update' : 'All'"}}
      }
    },
    {
      "width": 565, "height": 232,
      "title": {"text": "STD Testing Error", "offset": -3.2},
      "data": {"name": "ste"},
      "transform": [{"fold": ["a","b","c","d"], "as": ["s","v"]}],
      "mark": {"type": "line", "clip": true, "strokeWidth": 1.7},
      "encoding": {
        "x": {"field": "e", "type": "quantitative", "scale": {"type": "log", "domain": [0.741, 538], "nice": false},
          "axis": {"title": "Epochs", "values": [0.8,0.9,1,2,3,4,5,6,7,8,9,10,20,30,40,50,60,70,80,90,100,200,300,400,500],
            "labelExpr": "datum.value == 1 ? '10⁰' : datum.value == 10 ? '10¹' : datum.value == 100 ? '10²' : ''",
            "tickSize": {"condition": {"test": "datum.value == 1 || datum.value == 10 || datum.value == 100", "value": 4.6}, "value": 2.6}}},
        "y": {"field": "v", "type": "quantitative", "scale": {"type": "log", "domain": [0.01384, 0.303], "nice": false},
          "axis": {"title": "STD of Error", "values": [0.02,0.03,0.04,0.05,0.06,0.07,0.08,0.09,0.1,0.2,0.3],
            "labelExpr": "datum.value == 0.1 ? '10⁻¹' : ''",
            "tickSize": {"condition": {"test": "datum.value == 0.1", "value": 4.6}, "value": 2.6}}},
        "color": {"field": "s", "type": "nominal", "scale": {"domain": ["a","b","c","d"], "range": ["#1f77b4","#ff7f0e","#2ca02c","#d62728"]},
          "legend": {"title": null, "orient": "none", "legendX": 349, "legendY": 75.6,
            "labelExpr": "datum.label == 'a' ? 'Threshold Adaptation' : datum.label == 'b' ? 'Negative Weight Update' : datum.label == 'c' ? 'Closest Winner Update' : 'All'"}}
      }
    }
  ],
  "config": {
    "font": "DejaVu Sans",
    "view": {"stroke": "black", "strokeWidth": 1},
    "title": {"font": "DejaVu Sans", "fontSize": 17, "fontWeight": "normal", "color": "black", "anchor": "middle", "baseline": "alphabetic"},
    "axis": {"labelFont": "DejaVu Sans", "labelFontSize": 12.5, "labelColor": "black", "titleFont": "DejaVu Sans", "titleFontSize": 18, "titleFontWeight": "normal", "titleColor": "black",
      "tickColor": "black", "tickWidth": 1, "domainColor": "black", "domainWidth": 1, "grid": false, "labelOverlap": false, "labelFlush": false},
    "axisX": {"labelPadding": 1.5, "titlePadding": -2},
    "axisY": {"labelPadding": 4, "titlePadding": 1},
    "legend": {"labelFont": "DejaVu Sans", "labelFontSize": 13, "labelColor": "black", "symbolType": "M-2,0H2", "symbolSize": 196, "symbolStrokeWidth": 2, "symbolOffset": 5.5,
      "labelOffset": 15.7, "rowPadding": 4.4, "padding": 5, "fillColor": "rgba(255,255,255,0.8)", "strokeColor": "#cccccc", "cornerRadius": 3, "labelLimit": 400}
  }
}
